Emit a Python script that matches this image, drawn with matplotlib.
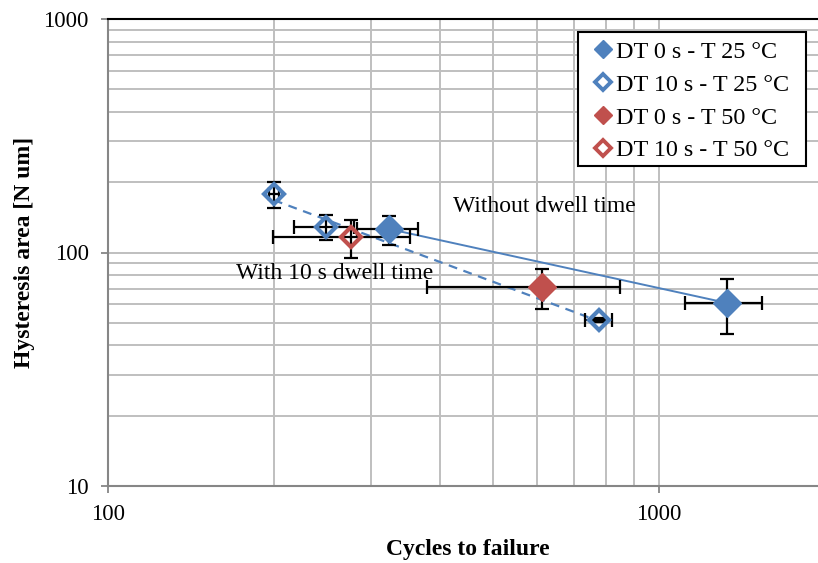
import numpy as np
import matplotlib
matplotlib.use("Agg")
import matplotlib.pyplot as plt
from matplotlib.lines import Line2D
from matplotlib.patches import Rectangle
from matplotlib.ticker import FixedLocator, NullFormatter, LogLocator

plt.rcParams['font.family'] = ['Liberation Serif', 'DejaVu Serif']

# ---- data ----
cycles_dt0_25 = [324, 1328]
area_dt0_25 = [126, 60.8]
xerr_dt0_25 = [41, 212]
yerr_dt0_25 = [18, 16]

cycles_dt10_25 = [200, 249, 778]
area_dt10_25 = [178, 128.6, 51.4]
xerr_dt10_25 = [4, 31, 44]
yerr_dt10_25 = [23, 15.5, 1]

cycles_dt0_50 = [614]
area_dt0_50 = [71.2]
xerr_dt0_50 = [235]
yerr_dt0_50 = [14]

cycles_dt10_50 = [276]
area_dt10_50 = [116.5]
xerr_dt10_50 = [77]
yerr_dt10_50 = [21.5]

series_labels = ["DT 0 s - T 25 °C", "DT 10 s - T 25 °C", "DT 0 s - T 50 °C", "DT 10 s - T 50 °C"]
x_ticks = [100, 1000]
y_ticks = [10, 100, 1000]

BLUE = '#4F81BD'
RED = '#C0504D'
W, H = 818, 563

fig = plt.figure(figsize=(8.18, 5.63), dpi=100)
ax = fig.add_axes([108/W, (H-486)/H, (W-108)/W, (486-19)/H])
ax.set_xscale('log')
ax.set_yscale('log')
ax.set_xlim(100, 10**(3 + (818-659)/551))
ax.set_ylim(10, 1000)

# grid
ax.xaxis.set_minor_locator(LogLocator(base=10, subs=np.arange(2, 10)))
ax.yaxis.set_minor_locator(LogLocator(base=10, subs=np.arange(2, 10)))
ax.xaxis.set_minor_formatter(NullFormatter())
ax.yaxis.set_minor_formatter(NullFormatter())
ax.grid(True, which='both', color='#BFBFBF', lw=1.4, zorder=0)
ax.set_axisbelow(True)
ax.tick_params(which='minor', length=0)
ax.xaxis.set_major_locator(FixedLocator(x_ticks))
ax.yaxis.set_major_locator(FixedLocator(y_ticks))
ax.set_xticklabels([str(v) for v in x_ticks])
ax.set_yticklabels([str(v) for v in y_ticks])
ax.tick_params(which='major', length=5, width=1.3, color='#868686', labelsize=16.5)
ax.tick_params(axis='x', pad=8)
ax.tick_params(axis='y', pad=9)

for s in ['left', 'bottom']:
    ax.spines[s].set_color('#868686')
    ax.spines[s].set_linewidth(1.5)
ax.spines['right'].set_visible(False)
ax.spines['top'].set_color('black')
ax.spines['top'].set_linewidth(1.5)

# trendlines (power fits)
def power_fit(xs, ys):
    b, a = np.polyfit(np.log10(xs), np.log10(ys), 1)
    xx = np.logspace(np.log10(min(xs)), np.log10(max(xs)), 50)
    return xx, 10**(a + b*np.log10(xx))

xx, yy = power_fit(cycles_dt0_25, area_dt0_25)
ax.plot(xx, yy, color=BLUE, lw=1.4, zorder=2)
xx, yy = power_fit(cycles_dt10_25, area_dt10_25)
ax.plot(xx, yy, color=BLUE, lw=1.6, ls=(0, (4, 3)), zorder=2)

# error bars
eb_kw = dict(fmt='none', ecolor='black', elinewidth=1.6, capsize=5, capthick=1.6, zorder=3)
for cx, cy, ex, ey in [(cycles_dt0_25, area_dt0_25, xerr_dt0_25, yerr_dt0_25),
                       (cycles_dt10_25, area_dt10_25, xerr_dt10_25, yerr_dt10_25),
                       (cycles_dt0_50, area_dt0_50, xerr_dt0_50, yerr_dt0_50),
                       (cycles_dt10_50, area_dt10_50, xerr_dt10_50, yerr_dt10_50)]:
    ax.errorbar(cx, cy, xerr=ex, yerr=ey, **eb_kw)

# markers
ax.plot(cycles_dt0_25, area_dt0_25, ls='none', marker='D', ms=14, mfc=BLUE, mec=BLUE, zorder=4)
ax.plot(cycles_dt10_25, area_dt10_25, ls='none', marker='D', ms=10, mfc='none', mec=BLUE, mew=3, zorder=4)
ax.plot(cycles_dt0_50, area_dt0_50, ls='none', marker='D', ms=14, mfc=RED, mec=RED, zorder=4)
ax.plot(cycles_dt10_50, area_dt10_50, ls='none', marker='D', ms=10, mfc='none', mec=RED, mew=3, zorder=4)

# annotations (pixel positions measured from top-left)
ax.text(453/W, 1 - 206/H, "Without dwell time", transform=fig.transFigure,
        fontsize=17, va='center', ha='left')
ax.text(236/W, 1 - 273/H, "With 10 s dwell time", transform=fig.transFigure,
        fontsize=17, va='center', ha='left')

ax.set_xlabel("Cycles to failure", fontsize=17, fontweight='bold')
ax.xaxis.set_label_coords((467.5-108)/(W-108), -(549-486)/(486-19))
ax.xaxis.label.set_va('center')
ax.set_ylabel("Hysteresis area [N um]", fontsize=17, fontweight='bold', labelpad=6)

# legend
handles = [
    Line2D([], [], ls='none', marker='D', ms=9.5, mfc=BLUE, mec=BLUE),
    Line2D([], [], ls='none', marker='D', ms=7.8, mfc='white', mec=BLUE, mew=2.8),
    Line2D([], [], ls='none', marker='D', ms=9.5, mfc=RED, mec=RED),
    Line2D([], [], ls='none', marker='D', ms=7.8, mfc='white', mec=RED, mew=2.8),
]
fig.patches.append(Rectangle((578/W, 1 - 166/H), (806-578)/W, (166-32)/H,
                             transform=fig.transFigure, fill=True, facecolor='white',
                             edgecolor='black', lw=1.5, zorder=5))
leg = fig.legend(handles, series_labels, loc='upper left',
                 bbox_to_anchor=(593/W, 1 - 41/H), fontsize=17.4,
                 frameon=False, handlelength=0.85, handletextpad=0.12,
                 borderpad=0, labelspacing=0.45, borderaxespad=0)
leg.set_zorder(6)

fig.savefig('out.png', dpi=100)
